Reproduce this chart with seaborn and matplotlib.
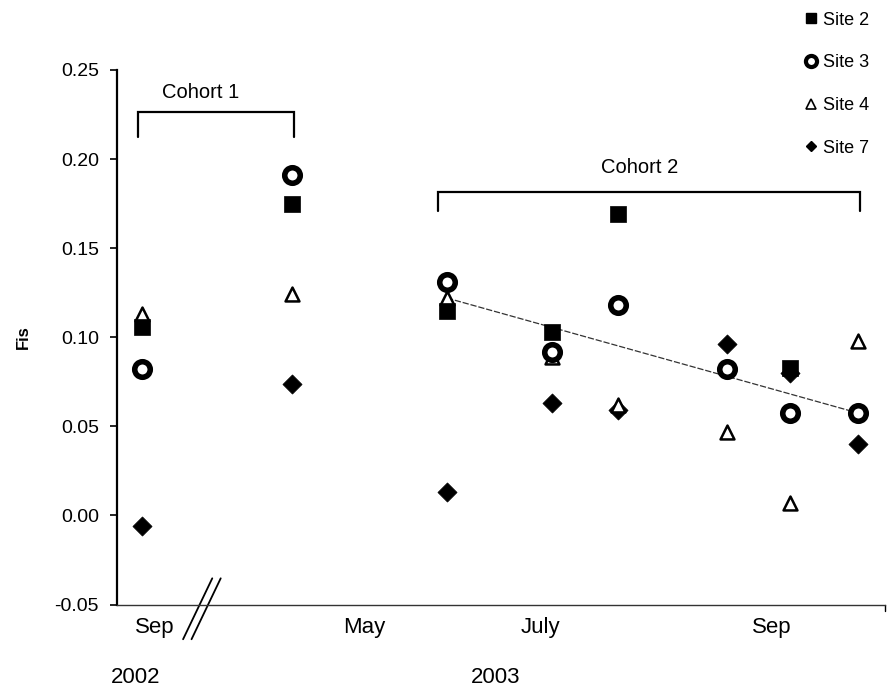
import matplotlib
matplotlib.use("Agg")
import matplotlib.pyplot as plt
import seaborn as sns
import pandas as pd
from matplotlib.lines import Line2D

sns.set_theme(style="white")
plt.rcParams["font.family"] = ["Liberation Sans", "DejaVu Sans"]
plt.rcParams["text.color"] = "black"
plt.rcParams["axes.labelcolor"] = "black"
plt.rcParams["xtick.color"] = "black"
plt.rcParams["ytick.color"] = "black"

# Sampling occasions, placed on a continuous time scale (broken between 2002 and 2003)
sample_pos = [25, 175, 330, 435, 501, 610, 673, 741]

# Fis estimates per site (None where the site was not sampled)
site2 = [0.106, 0.175, 0.115, 0.103, 0.169, None, 0.083, None]
site3 = [0.082, 0.191, 0.131, 0.092, 0.118, 0.082, 0.0575, 0.0575]
site4 = [0.113, 0.124, 0.122, 0.089, 0.062, 0.047, 0.007, 0.098]
site7 = [-0.006, 0.074, 0.013, 0.063, 0.059, 0.096, 0.080, 0.040]

# Trend for cohort 2 (first to last cohort-2 sample)
trend_pos = [330, 741]
trend_vals = [0.122, 0.0575]

month_pos = [38, 247, 423, 655]
month_labels = ["Sep", "May", "July", "Sep"]
year_pos = [19, 379]
year_labels = ["2002", "2003"]

fig = plt.figure(figsize=(8.88, 6.93), dpi=100)
ax = fig.add_axes([0.1318, 0.1277, 0.8648, 0.7713])

styles = {
    "Site 2": dict(marker="s", s=125, color="black", edgecolor="black", linewidth=0.5),
    "Site 3": dict(marker="o", s=125, color="white", edgecolor="black", linewidth=4.0),
    "Site 4": dict(marker="^", s=100, color="white", edgecolor="black", linewidth=1.8),
    "Site 7": dict(marker="D", s=95, color="black", edgecolor="black", linewidth=0.5),
}
series = {"Site 2": site2, "Site 3": site3, "Site 4": site4, "Site 7": site7}

sns.lineplot(x=trend_pos, y=trend_vals, ax=ax, color="#333333",
             linewidth=0.9, linestyle=(0, (5, 1.5)), zorder=2)

for name in ["Site 7", "Site 4", "Site 2", "Site 3"]:
    df = pd.DataFrame({"t": sample_pos, "fis": series[name]}).dropna()
    sns.scatterplot(data=df, x="t", y="fis", ax=ax, zorder=3, **styles[name])

ax.set_xlim(0, 768)
ax.set_ylim(-0.05, 0.25)
ax.set_yticks([-0.05, 0.0, 0.05, 0.10, 0.15, 0.20, 0.25])
ax.set_yticklabels(["-0.05", "0.00", "0.05", "0.10", "0.15", "0.20", "0.25"], fontsize=14)
ax.set_xticks(month_pos)
ax.set_xticklabels(month_labels, fontsize=16)
ax.tick_params(axis="x", length=0, pad=9)
ax.tick_params(axis="y", left=True, length=5, width=1.2, direction="out", pad=8)
ax.set_xlabel("")
ax.set_ylabel("")
fig.text(0.026, 0.514, "Fis", rotation=90, ha="center", va="center",
         fontsize=12, fontweight="bold")

for side in ["top", "right"]:
    ax.spines[side].set_visible(False)
ax.spines["left"].set_color("black")
ax.spines["left"].set_linewidth(1.6)
ax.spines["bottom"].set_color("#333333")
ax.spines["bottom"].set_linewidth(1.0)

# small end tick at the right end of the time axis
ax.plot([1, 1], [0, -0.012], transform=ax.transAxes, color="black", lw=1, clip_on=False)

# axis break marks
for dx in (0.0, 0.011):
    ax.plot([0.086 + dx, 0.124 + dx], [-0.065, 0.049], transform=ax.transAxes,
            color="black", lw=1.3, clip_on=False)

for p, lab in zip(year_pos, year_labels):
    ax.text(p, -0.091, lab, ha="center", va="center", fontsize=16)

# cohort brackets
def bracket(x0, x1, top, bottom, label, label_x, label_y):
    ax.plot([x0, x0, x1, x1], [bottom, top, top, bottom], color="black", lw=1.6,
            solid_joinstyle="miter", clip_on=False)
    ax.text(label_x, label_y, label, ha="center", va="center", fontsize=14.5)

bracket(21, 177, 0.2262, 0.2122, "Cohort 1", 84, 0.2375)
bracket(321, 743, 0.1818, 0.1706, "Cohort 2", 523, 0.1953)

handles = [
    Line2D([], [], marker="s", ls="", color="black", markersize=6.5),
    Line2D([], [], marker="o", ls="", markerfacecolor="white", markeredgecolor="black",
           markeredgewidth=3, markersize=8),
    Line2D([], [], marker="^", ls="", markerfacecolor="white", markeredgecolor="black",
           markeredgewidth=1.2, markersize=6.5),
    Line2D([], [], marker="D", ls="", color="black", markersize=5.5),
]
fig.legend(handles, list(series.keys()), loc="upper right", bbox_to_anchor=(0.992, 1.0),
           frameon=False, fontsize=13, labelspacing=1.42, handletextpad=0.25,
           handlelength=0.8, borderaxespad=0.25)

fig.savefig("out.png", dpi=100, facecolor="white")
